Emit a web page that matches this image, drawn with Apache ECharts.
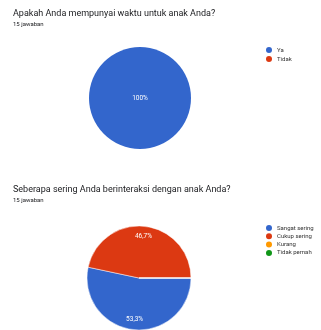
<!DOCTYPE html>
<html>
<head>
<meta charset="utf-8">
<script src="https://cdn.jsdelivr.net/npm/echarts@6/dist/echarts.min.js"></script>
<style>
  html, body { margin: 0; padding: 0; background: #fff; }
  #chart { width: 321px; height: 330px; }
</style>
</head>
<body>
<div id="chart"></div>
<script>
// Pertanyaan 1
const waktuLabels = ['Ya', 'Tidak']
const waktuCounts = [15, 0]
// Pertanyaan 2
const interaksiLabels = ['Sangat sering', 'Cukup sering', 'Kurang', 'Tidak pernah']
const interaksiCounts = [8, 7, 0, 0]

const palette = ['#3366cc', '#dc3912', '#ff9900', '#109618']
const font = 'Roboto, "Noto Sans", sans-serif'

function toData(labels, counts) {
  return labels.map((name, i) => ({ name, value: counts[i], itemStyle: { color: palette[i] } }))
}
function pct(p) {
  if (!p.value) return ''
  return p.percent.toFixed(1).replace('.', ',').replace(',0', '') + '%'
}

const titleStyle = { fontFamily: font, fontSize: 9, fontWeight: 'normal', color: '#202124' }
const subStyle = { fontFamily: font, fontSize: 6, color: '#202124' }
const legendBase = {
  orient: 'vertical', left: 266, padding: 0, icon: 'circle', itemWidth: 6, itemHeight: 6,
  itemStyle: { borderWidth: 0 },
  textStyle: { fontFamily: font, fontSize: 6, lineHeight: 7, color: '#333' }
}

const chart = echarts.init(document.getElementById('chart'))
chart.setOption({
  animation: false,
  title: [
    { text: 'Apakah Anda mempunyai waktu untuk anak Anda?', subtext: '15 jawaban', left: 8, top: 4,
      itemGap: 3, textStyle: titleStyle, subtextStyle: subStyle },
    { text: 'Seberapa sering Anda berinteraksi dengan anak Anda?', subtext: '15 jawaban', left: 8, top: 180,
      itemGap: 3, textStyle: titleStyle, subtextStyle: subStyle }
  ],
  legend: [
    Object.assign({ data: waktuLabels, top: 46.5, itemGap: 2 }, legendBase),
    Object.assign({ data: interaksiLabels, top: 224.5, itemGap: 1.3 }, legendBase)
  ],
  series: [
    {
      type: 'pie', center: [140, 98], radius: 51, startAngle: 0, silent: true,
      itemStyle: { borderWidth: 0 },
      label: { position: 'center', formatter: pct, color: '#fff', fontFamily: font, fontSize: 6.5 },
      labelLine: { show: false },
      data: toData(waktuLabels, waktuCounts)
    },
    {
      type: 'pie', center: [139, 278], radius: 52, startAngle: 0, silent: true,
      itemStyle: { borderColor: '#fff', borderWidth: 0.5 },
      label: { show: false },
      labelLine: { show: false },
      data: toData(interaksiLabels, interaksiCounts)
    },
    {
      // lapisan transparan hanya untuk posisi label persentase
      type: 'pie', center: [139, 278], radius: [26, 52], startAngle: 0, silent: true,
      itemStyle: { color: 'transparent' },
      label: { position: 'inside', formatter: pct, color: '#fff', fontFamily: font, fontSize: 6.5 },
      labelLine: { show: false },
      data: interaksiLabels.map((name, i) => ({ name: name + ' ', value: interaksiCounts[i] }))
    }
  ]
})
</script>
</body>
</html>
